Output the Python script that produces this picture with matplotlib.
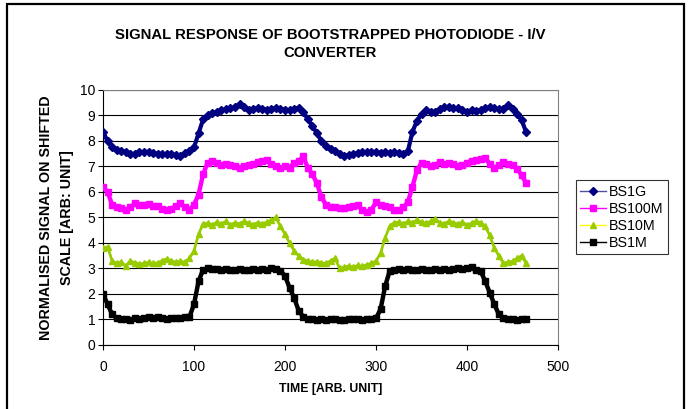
import matplotlib
matplotlib.use('agg')
import matplotlib.pyplot as plt
from matplotlib.patches import Rectangle
from matplotlib.lines import Line2D
import numpy as np

plt.rcParams['font.family'] = ['Liberation Sans', 'DejaVu Sans']

# time axis, one reading every 5 units
time = np.arange(0, 470, 5)

bs1g = [8.36, 8.0, 7.75, 7.65, 7.6, 7.58, 7.5, 7.5, 7.58, 7.55,
        7.58, 7.52, 7.5, 7.48, 7.5, 7.48, 7.45, 7.42, 7.52, 7.6,
        7.75, 8.3, 8.85, 9.02, 9.08, 9.15, 9.2, 9.25, 9.28, 9.32,
        9.45, 9.35, 9.22, 9.25, 9.3, 9.27, 9.22, 9.26, 9.3, 9.25,
        9.22, 9.22, 9.27, 9.3, 9.15, 8.85, 8.6, 8.3, 8.0, 7.8,
        7.7, 7.6, 7.5, 7.42, 7.45, 7.5, 7.52, 7.56, 7.55, 7.58,
        7.56, 7.54, 7.56, 7.53, 7.55, 7.53, 7.48, 7.6, 8.35, 8.8,
        9.05, 9.2, 9.15, 9.15, 9.25, 9.32, 9.35, 9.3, 9.28, 9.22,
        9.15, 9.2, 9.18, 9.22, 9.28, 9.32, 9.28, 9.25, 9.25, 9.4,
        9.25, 9.05, 8.82, 8.35]

bs100m = [6.2, 6.0, 5.5, 5.42, 5.38, 5.3, 5.4, 5.55, 5.5, 5.48,
          5.52, 5.47, 5.45, 5.32, 5.28, 5.35, 5.45, 5.55, 5.4, 5.3,
          5.5, 5.9, 6.7, 7.15, 7.2, 7.12, 7.05, 7.08, 7.05, 7.0,
          6.95, 7.02, 7.06, 7.1, 7.18, 7.2, 7.25, 7.1, 7.0, 6.95,
          7.0, 6.95, 7.15, 7.2, 7.4, 6.95, 6.7, 6.35, 5.8, 5.5,
          5.42, 5.4, 5.38, 5.37, 5.4, 5.45, 5.48, 5.3, 5.2, 5.3,
          5.6, 5.5, 5.45, 5.4, 5.28, 5.3, 5.4, 5.6, 6.2, 6.85,
          7.15, 7.1, 7.0, 7.05, 7.18, 7.1, 7.12, 7.08, 7.0, 7.05,
          7.15, 7.22, 7.25, 7.3, 7.32, 7.1, 6.95, 7.05, 7.18, 7.1,
          7.05, 6.92, 6.65, 6.35]

bs10m = [3.8, 3.85, 3.3, 3.2, 3.25, 3.1, 3.3, 3.22, 3.18, 3.2,
         3.25, 3.2, 3.22, 3.3, 3.38, 3.3, 3.25, 3.28, 3.25, 3.4,
         3.7, 4.35, 4.75, 4.78, 4.7, 4.82, 4.75, 4.85, 4.7, 4.8,
         4.75, 4.85, 4.78, 4.72, 4.8, 4.75, 4.82, 4.9, 5.0, 4.65,
         4.35, 4.0, 3.7, 3.5, 3.35, 3.3, 3.25, 3.27, 3.22, 3.2,
         3.3, 3.4, 3.0, 3.05, 3.1, 3.05, 3.12, 3.08, 3.15, 3.2,
         3.3, 3.6, 4.2, 4.65, 4.8, 4.82, 4.75, 4.85, 4.8, 4.9,
         4.82, 4.78, 4.85, 4.95, 4.8, 4.75, 4.85, 4.8, 4.75, 4.82,
         4.7, 4.78, 4.85, 4.8, 4.65, 4.3, 3.8, 3.5, 3.2, 3.25,
         3.28, 3.4, 3.5, 3.2]

bs1m = [2.0, 1.6, 1.2, 1.05, 1.0, 1.02, 0.98, 1.05, 1.02, 1.05,
        1.08, 1.05, 1.1, 1.05, 1.03, 1.05, 1.07, 1.05, 1.08, 1.1,
        1.6, 2.5, 2.95, 3.0, 2.98, 2.97, 2.95, 2.97, 2.96, 2.93,
        2.97, 2.96, 2.95, 2.98, 2.93, 2.97, 2.95, 3.0, 2.97, 2.92,
        2.7, 2.25, 1.85, 1.35, 1.1, 1.02, 1.0, 0.98, 1.0, 0.97,
        1.0, 1.02, 0.98, 0.97, 1.0, 1.02, 1.0, 0.98, 1.0, 1.02,
        1.05, 1.4, 2.3, 2.9, 2.95, 2.97, 2.95, 2.97, 2.96, 2.95,
        2.98, 2.93, 2.95, 2.97, 2.93, 2.98, 2.96, 2.97, 3.0, 2.97,
        3.02, 3.05, 2.95, 2.9, 2.5, 2.05, 1.6, 1.2, 1.05, 1.0,
        1.02, 0.98, 1.02, 1.0]

labels = ['BS1G', 'BS100M', 'BS10M', 'BS1M']
line_colors = ['#5050a0', '#ff00ff', '#ffff00', '#000000']
marker_colors = ['#000080', '#ff00ff', '#99cc00', '#000000']
markers = ['D', 's', '^', 's']

fig = plt.figure(figsize=(6.9, 4.09), dpi=100)
ax = fig.add_axes([0.1493, 0.1565, 0.6594, 0.6235])

# dense markers + thick line so each trace reads as a solid band
widths = [3.0, 3.2, 2.0, 3.2]
sizes = [3.8, 4.5, 5.0, 4.5]
for y, mc, m, w, s in zip([bs1g, bs100m, bs10m, bs1m],
                          marker_colors, markers, widths, sizes):
    ax.plot(time, y, color=mc, lw=w, marker=m, ms=s, mfc=mc, mec=mc, zorder=3)

ax.set_xlim(0, 500)
ax.set_ylim(0, 10)
ax.set_xticks(np.arange(0, 501, 100))
ax.set_yticks(np.arange(0, 11, 1))
ax.yaxis.grid(True, color='#000000', lw=0.8)
ax.set_axisbelow(True)
ax.tick_params(labelsize=10, direction='out', length=3.5, width=0.8, color='#000000')
ax.tick_params(axis='x', pad=7)
ax.tick_params(axis='y', pad=2)
for s in ['left', 'bottom']:
    ax.spines[s].set_color('#000000')
for s in ['top', 'right']:
    ax.spines[s].set_color('#808080')

ax.set_title('SIGNAL RESPONSE OF BOOTSTRAPPED PHOTODIODE - I/V\nCONVERTER',
             fontsize=10.7, fontweight='bold', pad=24, linespacing=1.35)
ax.set_xlabel('TIME [ARB. UNIT]', fontsize=8.8, fontweight='bold', labelpad=7)
ax.set_ylabel('NORMALISED SIGNAL ON SHIFTED\nSCALE [ARB: UNIT]', fontsize=10.3,
              fontweight='bold', labelpad=4, linespacing=1.7)

# legend entries with thin lines, like the original
handles = [Line2D([], [], color=lc, lw=1, marker=m, ms=4, mfc=mc, mec=mc)
           for lc, mc, m in zip(line_colors, marker_colors, markers)]
leg = ax.legend(handles, labels, loc='center left', bbox_to_anchor=(1.04, 0.50),
                fontsize=10.3, frameon=True, fancybox=False, edgecolor='#000000',
                handlelength=1.8, handletextpad=0.2, borderpad=0.3,
                labelspacing=0.22, borderaxespad=0)
leg.get_frame().set_linewidth(0.8)

# outer chart border
fig.patches.append(Rectangle((7 / 690, -0.05), 677 / 690, 1.05 - 4 / 409,
                             transform=fig.transFigure, fill=False,
                             edgecolor='#000000', lw=1.6, clip_on=False))

fig.savefig('out.png', dpi=100)
